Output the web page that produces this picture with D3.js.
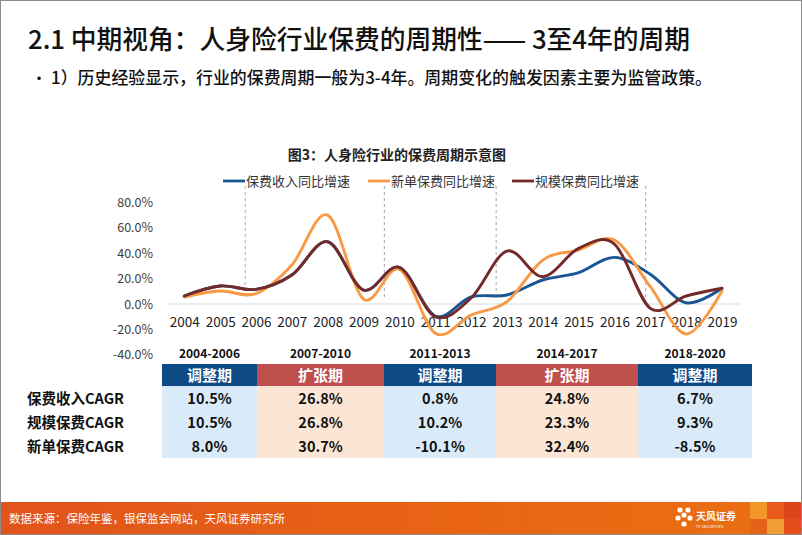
<!DOCTYPE html>
<html>
<head>
<meta charset="utf-8">
<script src="https://cdn.jsdelivr.net/npm/d3@7"></script>
<style>
  body { margin: 0; background: #fff; }
  svg { display: block; }
  text { font-family: "Noto Sans CJK SC", "Noto Sans", sans-serif; }
</style>
</head>
<body>
<svg id="chart" width="802" height="535"></svg>
<script>
// data
const years = [2004, 2005, 2006, 2007, 2008, 2009, 2010, 2011, 2012, 2013, 2014, 2015, 2016, 2017, 2018, 2019];
const incomeGrowth = [6.3, 14.2, 11.5, 22.8, 49.0, 11.0, 28.9, -9.5, 5.5, 7.1, 18.9, 24.7, 36.7, 23.4, 1.0, 12.4];
const newBizGrowth = [5.5, 10.2, 8.2, 30.7, 70.0, 3.9, 27.3, -23.0, -8.7, 1.8, 34.6, 42.5, 50.4, 13.6, -23.6, 10.2];
const scaleGrowth  = [6.3, 14.2, 11.5, 22.8, 49.0, 11.0, 28.9, -10.0, 4.7, 41.7, 21.5, 43.8, 47.2, -3.4, 6.3, 12.4];
const yTicks = [-40, -20, 0, 20, 40, 60, 80];
const seriesNames = ['保费收入同比增速', '新单保费同比增速', '规模保费同比增速'];
const cycleBreaks = [2005.7, 2009.58, 2012.7, 2016.87];

const periods = ['2004-2006', '2007-2010', '2011-2013', '2014-2017', '2018-2020'];
const phases = ['调整期', '扩张期', '调整期', '扩张期', '调整期'];
const rowLabels = ['保费收入CAGR', '规模保费CAGR', '新单保费CAGR'];
const cagrIncome = [10.5, 26.8, 0.8, 24.8, 6.7];
const cagrScale = [10.5, 26.8, 10.2, 23.3, 9.3];
const cagrNew = [8.0, 30.7, -10.1, 32.4, -8.5];

// layout
const colEdges = [162, 257, 384, 496, 638, 752];
const colors = ['#1b5694', '#f79a43', '#74292a'];
const bandColors = { '调整期': '#0d4a86', '扩张期': '#c0504d' };
const cellColors = { '调整期': '#d9ebf8', '扩张期': '#fbe6d6' };

const svg = d3.select('#chart');
svg.append('rect').attr('width', 802).attr('height', 535).attr('fill', '#fff');

// heading
svg.append('text').attr('x', 28).attr('y', 49)
  .attr('font-size', 26).attr('font-weight', 500).attr('fill', '#111')
  .attr('textLength', 662).attr('lengthAdjust', 'spacingAndGlyphs')
  .text('2.1 中期视角：人身险行业保费的周期性—— 3至4年的周期');

svg.append('text').attr('x', 31).attr('y', 84).attr('font-size', 16).attr('fill', '#111').text('•');
svg.append('text').attr('x', 51).attr('y', 84).attr('font-size', 17).attr('font-weight', 500).attr('fill', '#111')
  .attr('textLength', 661).attr('lengthAdjust', 'spacingAndGlyphs')
  .text('1）历史经验显示，行业的保费周期一般为3-4年。周期变化的触发因素主要为监管政策。');

svg.append('text').attr('x', 397).attr('y', 160).attr('text-anchor', 'middle')
  .attr('font-size', 14).attr('font-weight', 700).attr('fill', '#222')
  .text('图3：人身险行业的保费周期示意图');

// scales
const x = d3.scaleLinear().domain([2004, 2019]).range([184.3, 722]);
const y = d3.scaleLinear().domain([-40, 80]).range([354.8, 202.4]);

// dashed cycle separators
svg.append('g').selectAll('line').data(cycleBreaks).join('line')
  .attr('x1', d => x(d)).attr('x2', d => x(d))
  .attr('y1', 186).attr('y2', 300)
  .attr('stroke', '#a6a6a6').attr('stroke-width', 1).attr('stroke-dasharray', '3,3');

// zero line
svg.append('line')
  .attr('x1', x(2003.5)).attr('x2', x(2019.5)).attr('y1', y(0)).attr('y2', y(0))
  .attr('stroke', '#d9d9d9').attr('stroke-width', 1);

// y axis
const yAxis = svg.append('g').attr('transform', 'translate(156,0)')
  .call(d3.axisLeft(y).tickValues(yTicks).tickSize(0).tickPadding(3).tickFormat(d => d.toFixed(1) + '%'));
yAxis.select('.domain').remove();
yAxis.selectAll('text').attr('font-family', '"Liberation Sans", Arial, sans-serif')
  .attr('font-size', 12.5).attr('fill', '#404040');

// x axis
const xAxis = svg.append('g').attr('transform', `translate(0,${y(0)})`)
  .call(d3.axisBottom(x).tickValues(years).tickSize(0).tickPadding(13).tickFormat(d3.format('d')));
xAxis.select('.domain').remove();
xAxis.selectAll('text').attr('font-family', 'Lato, "Open Sans", sans-serif')
  .attr('font-size', 13.5).attr('fill', '#222');

// lines (Excel-style smoothing)
const line = d3.line().x((d, i) => x(years[i])).y(d => y(d)).curve(d3.curveCardinal.tension(0));
[incomeGrowth, newBizGrowth, scaleGrowth].forEach((s, k) => {
  svg.append('path').datum(s).attr('d', line)
    .attr('fill', 'none').attr('stroke', colors[k]).attr('stroke-width', 2.9)
    .attr('stroke-linecap', 'round');
});

// legend
const legendX = [223, 368, 512];
const legend = svg.append('g');
seriesNames.forEach((name, k) => {
  legend.append('line').attr('x1', legendX[k]).attr('x2', legendX[k] + 22)
    .attr('y1', 181).attr('y2', 181).attr('stroke', colors[k]).attr('stroke-width', 2.8);
  legend.append('text').attr('x', legendX[k] + 23).attr('y', 186)
    .attr('font-size', 13).attr('fill', '#333').text(name);
});

// table
const table = svg.append('g');
const rowsData = [cagrIncome, cagrScale, cagrNew];
periods.forEach((p, i) => {
  const x0 = colEdges[i], x1 = colEdges[i + 1], cx = (x0 + x1) / 2;
  table.append('text').attr('x', cx).attr('y', 358).attr('text-anchor', 'middle')
    .attr('font-family', '"Liberation Sans", Arial, sans-serif')
    .attr('font-size', 12).attr('font-weight', 700).attr('fill', '#111').text(p);
  table.append('rect').attr('x', x0).attr('y', 364).attr('width', x1 - x0).attr('height', 22)
    .attr('fill', bandColors[phases[i]]);
  table.append('text').attr('x', cx).attr('y', 381).attr('text-anchor', 'middle')
    .attr('font-size', 15).attr('font-weight', 700).attr('fill', '#fff').text(phases[i]);
  table.append('rect').attr('x', x0).attr('y', 386).attr('width', x1 - x0).attr('height', 72)
    .attr('fill', cellColors[phases[i]]);
  rowsData.forEach((r, j) => {
    table.append('text').attr('x', cx).attr('y', 404 + j * 24).attr('text-anchor', 'middle')
      .attr('font-size', 14.5).attr('font-weight', 700).attr('fill', '#111')
      .text(r[i].toFixed(1) + '%');
  });
});
rowLabels.forEach((lab, j) => {
  table.append('text').attr('x', 27).attr('y', 404 + j * 24)
    .attr('font-size', 14.5).attr('font-weight', 700).attr('fill', '#111').text(lab);
});

// footer
const defs = svg.append('defs');
const grad = defs.append('linearGradient').attr('id', 'foot').attr('x1', 0).attr('x2', 1);
grad.append('stop').attr('offset', 0).attr('stop-color', '#e2531b');
grad.append('stop').attr('offset', 0.6).attr('stop-color', '#e86514');
grad.append('stop').attr('offset', 1).attr('stop-color', '#e97012');
svg.append('rect').attr('x', 0).attr('y', 502).attr('width', 802).attr('height', 33).attr('fill', 'url(#foot)');
svg.append('text').attr('x', 9).attr('y', 523).attr('font-size', 11.5).attr('fill', '#fff')
  .text('数据来源：保险年鉴，银保监会网站，天风证券研究所');

// squares at the right end of the footer
const squares = [
  [750, 502, 17, 17, '#f39a2c'], [767, 502, 17, 17, '#e8561c'], [784, 502, 18, 17, '#d9401a'],
  [750, 519, 17, 16, '#e4601b'], [767, 519, 17, 16, '#f2a23a'], [784, 519, 18, 16, '#e3491b']
];
svg.append('g').selectAll('rect').data(squares).join('rect')
  .attr('x', d => d[0]).attr('y', d => d[1]).attr('width', d => d[2]).attr('height', d => d[3])
  .attr('fill', d => d[4]).attr('opacity', 0.9);

// logo
const logo = svg.append('g').attr('transform', 'translate(684,518)');
[[-4, -8], [4, -8], [-6, 0], [6, 0], [0, 6], [0, -3]].forEach(p => {
  logo.append('circle').attr('cx', p[0]).attr('cy', p[1]).attr('r', 2.6).attr('fill', '#fff');
});
logo.append('text').attr('x', 12).attr('y', 2).attr('font-size', 10).attr('font-weight', 700)
  .attr('fill', '#fff').text('天风证券');
logo.append('text').attr('x', 12).attr('y', 10).attr('font-size', 4).attr('fill', '#fff')
  .text('TF SECURITIES');

// frame
svg.append('rect').attr('x', 0.5).attr('y', 0.5).attr('width', 801).attr('height', 534)
  .attr('fill', 'none').attr('stroke', '#8c8c8c');
</script>
</body>
</html>
